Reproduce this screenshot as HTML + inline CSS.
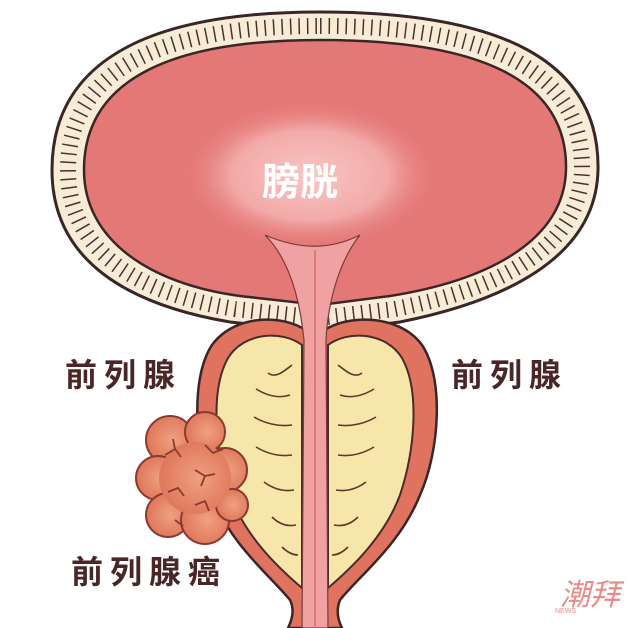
<!DOCTYPE html>
<html><head><meta charset="utf-8"><style>
html,body{margin:0;padding:0;background:#fff;}
svg{display:block;}
</style></head><body>
<svg width="640" height="628" viewBox="0 0 640 628" xmlns="http://www.w3.org/2000/svg">
<defs>
<radialGradient id="lum" cx="0.5" cy="0.5" r="0.5">
<stop offset="0" stop-color="#f8c6c4"/><stop offset="0.6" stop-color="#f2aaa8"/><stop offset="1" stop-color="#e57a78" stop-opacity="0"/>
</radialGradient>
<radialGradient id="tum" cx="0.55" cy="0.5" r="0.5">
<stop offset="0" stop-color="#f0a080"/><stop offset="1" stop-color="#e07a5e"/>
</radialGradient>
</defs>
<rect width="640" height="628" fill="#fff"/>
<path d="M320 12 C500 12 600 60 598 170 C596 260 500 302 400 322 L320 332 L230 322 C130 305 52 262 52 170 C52 60 150 12 320 12 Z" fill="#f7ecd6" stroke="#3a2626" stroke-width="3"/>
<path d="M320 26 C490 26 583 70 582 170 C580 250 495 290 395 309 L320 318 L235 309 C140 294 68 252 68 170 C68 70 160 26 320 26 Z" fill="none" stroke="#4a3030" stroke-width="16" stroke-dasharray="1.5 7"/>
<path d="M320 40 C480 40 568 80 566 170 C564 240 490 280 390 296 L320 305 L240 296 C150 284 84 240 84 170 C84 80 170 40 320 40 Z" fill="#e47876" stroke="#3a2626" stroke-width="2.5"/>
<ellipse cx="310" cy="175" rx="130" ry="75" fill="url(#lum)"/>
<path d="M312 335 C290 314 236 312 212 345 C190 378 195 450 212 495 C230 545 270 575 290 600 C295 610 292 620 288 628 L342 628 C338 620 336 610 340 600 C360 575 400 545 420 495 C440 450 444 378 422 345 C398 312 340 314 318 335 Z" fill="#e0735f" stroke="#3a2626" stroke-width="2.5"/>
<path d="M302 345 C282 330 244 332 228 358 C210 390 215 450 230 495 C245 535 275 565 302 588 Z" fill="#f7e6aa" stroke="#4a2a2a" stroke-width="2"/>
<path d="M328 345 C348 330 386 332 402 358 C420 390 415 450 400 495 C385 535 355 565 328 588 Z" fill="#f7e6aa" stroke="#4a2a2a" stroke-width="2"/>
<g stroke="#5a3a2a" stroke-width="1.6" fill="none">
<path d="M292 365 c-8 6 -16 14 -24 8"/><path d="M290 395 c-12 4 -24 0 -34 -6"/><path d="M292 425 c-14 2 -28 -2 -38 -8"/><path d="M292 455 c-14 2 -26 -2 -36 -8"/><path d="M294 490 c-12 2 -22 -2 -30 -8"/><path d="M296 525 c-10 2 -18 -2 -24 -8"/><path d="M298 555 c-6 0 -12 -4 -16 -8"/>
<path d="M338 365 c8 6 16 14 24 8"/><path d="M340 395 c12 4 24 0 34 -6"/><path d="M338 425 c14 2 28 -2 38 -8"/><path d="M338 455 c14 2 26 -2 36 -8"/><path d="M336 490 c12 2 22 -2 30 -8"/><path d="M334 525 c10 2 18 -2 24 -8"/><path d="M332 555 c6 0 12 -4 16 -8"/>
</g>
<path d="M265 235 C290 260 300 300 304 340 L302 628 L328 628 L326 340 C328 300 340 260 360 235 C330 250 300 250 265 235 Z" fill="#f0a2a2" stroke="#7a3a3a" stroke-width="1.2"/>
<path d="M315 250 L315 628" stroke="#d86a6a" stroke-width="1.5"/>
<g fill="url(#tum)" stroke="#8a3a2e" stroke-width="2">
<circle cx="170" cy="440" r="24"/><circle cx="205" cy="432" r="20"/><circle cx="158" cy="478" r="22"/><circle cx="225" cy="470" r="22"/><circle cx="168" cy="515" r="22"/><circle cx="205" cy="520" r="24"/><circle cx="232" cy="505" r="16"/>
</g>
<circle cx="195" cy="478" r="36" fill="url(#tum)"/>
<g stroke="#8a3a2e" stroke-width="1.8" fill="none">
<path d="M165 455 l10 -6 m0 0 l6 8 m-6 -8 l-2 -10"/><path d="M195 470 l10 6 l-4 10 m4 -10 l10 -2"/><path d="M168 492 l10 -4 l6 8"/><path d="M205 445 l8 8 l10 -4"/><path d="M195 505 l10 -4 l4 10"/><path d="M175 520 l8 6"/>
</g>
<g font-family="'Liberation Sans','Noto Sans CJK SC',sans-serif" font-weight="bold" font-size="32" fill="#4a2626" letter-spacing="7">
<text x="65" y="386">前列腺</text>
<text x="451" y="386">前列腺</text>
<text x="71" y="583">前列腺癌</text>
</g>
<text x="262" y="195" font-family="'Liberation Sans','Noto Sans CJK SC',sans-serif" font-weight="bold" font-size="38" fill="#fff">膀胱</text>
<text x="560" y="605" font-family="'Liberation Sans','Noto Sans CJK SC',sans-serif" font-size="30" fill="#ec8a8a" font-style="italic">潮拜</text>
<text x="555" y="613" font-family="'Liberation Sans',sans-serif" font-size="7" fill="#ec8a8a">NEWS</text>
</svg>
</body></html>
